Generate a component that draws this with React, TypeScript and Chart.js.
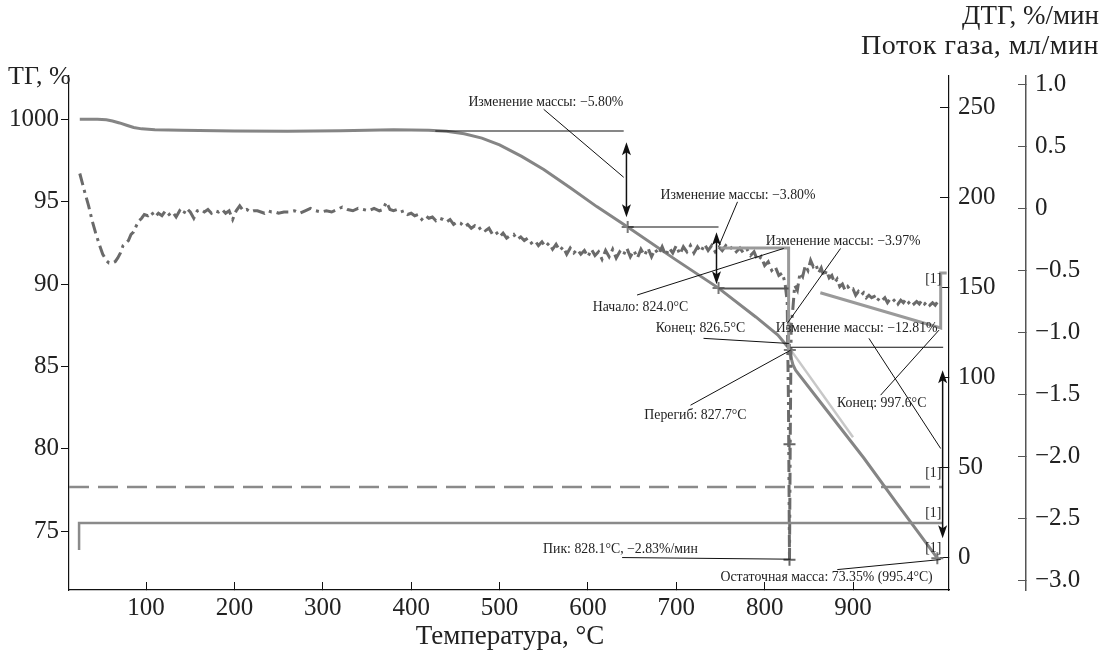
import { useEffect, useRef } from 'react';
import { Chart, registerables } from 'chart.js';

Chart.register(...registerables);

const FONT = '"Liberation Serif", "Times New Roman", serif';

// axis ticks
const X_TICKS = [100, 200, 300, 400, 500, 600, 700, 800, 900];
const TG_TICKS = [75, 80, 85, 90, 95, 100];
const TG_TICK_LABELS = ['75', '80', '85', '90', '95', '1000'];
const FLOW_TICKS = [0, 50, 100, 150, 200, 250];
const DTG_TICKS = [-3, -2.5, -2, -1.5, -1, -0.5, 0, 0.5, 1];
const DTG_TICK_LABELS = ['−3.0', '−2.5', '−2.0', '−1.5', '−1.0', '−0.5', '0', '0.5', '1.0'];

// TG curve, %
const TG_T = [25, 45, 55, 62, 70, 78, 86, 95, 110, 140, 200, 260, 320, 380, 420, 440, 460, 480, 500, 525, 550, 580, 610, 645, 700, 747.8, 790, 815, 826.5, 829, 832, 835, 870, 912, 950, 995.4];
const TG_V = [100.0, 100.0, 99.97, 99.9, 99.78, 99.64, 99.5, 99.42, 99.37, 99.33, 99.29, 99.28, 99.31, 99.36, 99.34, 99.28, 99.12, 98.86, 98.45, 97.75, 96.95, 95.85, 94.7, 93.46, 91.45, 89.75, 88.0, 86.9, 86.16, 85.7, 85.1, 84.77, 82.35, 79.45, 76.65, 73.35];

// light tangent after the step
const LIGHT_T = [829.5, 900];
const LIGHT_V = [86.0, 80.7];

// DTG curve, %/min
const DTG_T = [25, 28, 31, 35, 39, 43, 47, 51, 55, 58, 62, 65, 68, 71, 74, 77, 80, 83, 86, 89, 92, 95, 98, 102, 106, 110, 114, 118, 122, 126, 130, 134, 138, 142, 146, 150, 154, 158, 162, 166, 170, 174, 178, 182, 186, 190, 194, 198, 202, 206, 210, 214, 218, 222, 226, 230, 234, 238, 242, 246, 250, 256, 262, 268, 274, 280, 286, 292, 298, 304, 310, 316, 322, 328, 334, 340, 346, 352, 358, 364, 368, 372, 376, 380, 384, 388, 392, 396, 400, 404, 408, 412, 416, 420, 424, 428, 432, 436, 440, 444, 448, 452, 456, 460, 464, 468, 472, 476, 480, 484, 488, 492, 496, 500, 504, 508, 512, 516, 520, 524, 528, 532, 536, 540, 544, 548, 552, 556, 560, 564, 568, 572, 576, 580, 584, 588, 592, 596, 600, 604, 608, 612, 616, 620, 624, 628, 632, 636, 640, 644, 648, 652, 656, 660, 664, 668, 672, 676, 680, 684, 688, 692, 696, 700, 704, 708, 712, 716, 720, 724, 728, 732, 736, 740, 744, 748, 752, 756, 760, 764, 768, 772, 776, 780, 784, 788, 792, 796, 800, 804, 808, 812, 816, 820, 823, 825.5, 827, 828.1, 829, 830, 832, 834, 837, 840, 843, 846, 849, 852, 855, 858, 861, 864, 867, 870, 873, 876, 879, 882, 885, 888, 891, 894, 897, 900, 903, 906, 909, 912, 915, 918, 921, 924, 927, 930, 933, 936, 939, 942, 945, 948, 951, 954, 957, 960, 963, 966, 969, 972, 975, 978, 981, 984, 987, 990, 993, 996];
const DTG_V = [0.28, 0.20, 0.12, 0.02, -0.10, -0.20, -0.29, -0.37, -0.42, -0.44, -0.44, -0.43, -0.40, -0.36, -0.30, -0.28, -0.26, -0.21, -0.19, -0.14, -0.10, -0.08, -0.05, -0.06, -0.03, -0.07, -0.04, -0.06, -0.02, -0.05, -0.03, -0.07, -0.02, -0.05, 0.00, -0.03, -0.08, -0.02, -0.01, -0.03, -0.01, -0.04, -0.02, -0.03, -0.01, -0.04, -0.02, -0.09, -0.02, 0.02, -0.02, -0.01, -0.03, -0.02, -0.02, -0.03, -0.04, -0.02, -0.03, -0.03, -0.04, -0.03, -0.03, -0.02, -0.04, -0.02, 0.00, -0.02, -0.03, -0.02, -0.03, -0.01, 0.01, -0.01, -0.02, 0.00, -0.01, -0.02, 0.00, -0.02, -0.01, 0.05, -0.01, -0.02, -0.01, -0.03, -0.02, -0.05, -0.04, -0.06, -0.05, -0.09, -0.06, -0.08, -0.07, -0.10, -0.08, -0.09, -0.11, -0.09, -0.13, -0.11, -0.12, -0.15, -0.13, -0.16, -0.14, -0.17, -0.15, -0.18, -0.16, -0.21, -0.19, -0.23, -0.20, -0.24, -0.22, -0.21, -0.25, -0.23, -0.26, -0.24, -0.28, -0.26, -0.30, -0.27, -0.31, -0.28, -0.33, -0.29, -0.34, -0.31, -0.37, -0.32, -0.36, -0.33, -0.37, -0.34, -0.39, -0.33, -0.38, -0.35, -0.41, -0.34, -0.39, -0.33, -0.40, -0.35, -0.38, -0.32, -0.39, -0.34, -0.40, -0.33, -0.38, -0.32, -0.39, -0.33, -0.37, -0.31, -0.38, -0.32, -0.36, -0.30, -0.37, -0.31, -0.35, -0.30, -0.36, -0.31, -0.35, -0.29, -0.34, -0.30, -0.35, -0.31, -0.34, -0.30, -0.33, -0.31, -0.35, -0.32, -0.36, -0.33, -0.38, -0.35, -0.42, -0.39, -0.46, -0.43, -0.50, -0.47, -0.54, -0.52, -0.60, -0.75, -1.60, -2.83, -1.80, -0.95, -0.80, -0.62, -0.66, -0.52, -0.55, -0.46, -0.50, -0.42, -0.47, -0.45, -0.52, -0.48, -0.55, -0.50, -0.56, -0.54, -0.60, -0.57, -0.63, -0.61, -0.66, -0.63, -0.66, -0.65, -0.70, -0.67, -0.70, -0.68, -0.72, -0.70, -0.72, -0.71, -0.75, -0.72, -0.74, -0.72, -0.76, -0.73, -0.75, -0.73, -0.77, -0.74, -0.76, -0.73, -0.76, -0.74, -0.77, -0.75, -0.77, -0.74, -0.77, -0.75, -0.78, -0.76, -0.78, -0.75, -0.77, -0.76];

// DTG evaluation baselines
const BASE1_T = [750, 827.1, 827.1];
const BASE1_V = [-0.32, -0.32, -1.14];
const BASE2_T = [863, 999.2, 999.2, 1006];
const BASE2_V = [-0.68, -0.964, -0.521, -0.521];

// gas flow, ml/min
const FLOW1_T = [24.2, 24.2, 1001];
const FLOW1_V = [4.3, 19.3, 19.3];
const FLOW2_T = [12.8, 1001];
const FLOW2_V = [39.3, 39.3];

// evaluation crosses
const CROSS_TG_T = [645, 747.8, 828.5, 995.4];
const CROSS_TG_V = [93.46, 89.75, 86.0, 73.35];
const CROSS_DTG_T = [828.1, 828.1];
const CROSS_DTG_V = [-1.9, -2.83];

// annotations in TG units: [TG, T from, T to]
const HLINES = [
  [99.29, 427.3, 640.5],
  [93.46, 645, 747.8],
  [89.73, 747.8, 827.1],
  [86.16, 829.3, 1002],
];
// double arrows: [T, TG top, TG bottom]
const ARROWS = [
  [643.6, 98.61, 94.06],
  [745.5, 93.15, 89.99],
  [1001.4, 84.77, 74.56],
];
// leaders: [T1, TG1, T2, TG2]
const LEADERS = [
  [549.9, 100.61, 640.5, 96.48],
  [769.3, 94.99, 747.8, 92.26],
  [655.6, 89.33, 821.6, 92.16],
  [885.9, 92.16, 825.6, 87.61],
  [730.8, 86.7, 827.4, 86.39],
  [716.1, 82.64, 829.3, 85.98],
  [918.0, 86.7, 999.2, 80.01],
  [931.2, 83.25, 997.3, 87.2],
  [638.7, 73.39, 829.3, 73.29],
  [882.2, 72.66, 999.2, 73.27],
];
const LABEL_TEXT = [
  'Изменение массы: −5.80%',
  'Изменение массы: −3.80%',
  'Начало: 824.0°C',
  'Изменение массы: −3.97%',
  'Конец: 826.5°C',
  'Перегиб: 827.7°C',
  'Изменение массы: −12.81%',
  'Конец: 997.6°C',
  'Пик: 828.1°C, −2.83%/мин',
  'Остаточная масса: 73.35% (995.4°C)',
  '[1]', '[1]', '[1]', '[1]',
];
const LABEL_T = [552.4, 769.9, 659.5, 888.8, 727.4, 721.7, 904.1, 932.4, 636.8, 870.1, 990.7, 990.7, 990.7, 990.7];
const LABEL_V = [101.01, 95.4, 88.61, 92.56, 87.28, 82.04, 87.3, 82.75, 73.89, 72.19, 90.3, 78.51, 76.1, 73.94];

const zip = (xs: number[], ys: number[]) => xs.map((x, i) => ({ x, y: ys[i] }));

const notesPlugin = {
  id: 'tgaNotes',
  afterDatasetsDraw(chart: any) {
    const { ctx, scales } = chart;
    const px = (t: number) => scales.x.getPixelForValue(t);
    const py = (v: number) => scales.yTG.getPixelForValue(v);
    ctx.save();
    HLINES.forEach(([v, t1, t2], i) => {
      ctx.strokeStyle = i === 2 ? '#555' : '#111';
      ctx.lineWidth = i === 2 ? 2 : 1.2;
      ctx.beginPath();
      ctx.moveTo(px(t1), py(v));
      ctx.lineTo(px(t2), py(v));
      ctx.stroke();
    });
    ctx.strokeStyle = '#111';
    ctx.lineWidth = 1;
    LEADERS.forEach(([t1, v1, t2, v2]) => {
      ctx.beginPath();
      ctx.moveTo(px(t1), py(v1));
      ctx.lineTo(px(t2), py(v2));
      ctx.stroke();
    });
    ctx.fillStyle = '#111';
    ctx.lineWidth = 1.5;
    ARROWS.forEach(([t, v1, v2]) => {
      const x = px(t), y1 = py(v1), y2 = py(v2);
      ctx.beginPath();
      ctx.moveTo(x, y1 + 6);
      ctx.lineTo(x, y2 - 6);
      ctx.stroke();
      ctx.beginPath();
      ctx.moveTo(x, y1); ctx.lineTo(x - 4.5, y1 + 13); ctx.lineTo(x, y1 + 10); ctx.lineTo(x + 4.5, y1 + 13);
      ctx.closePath(); ctx.fill();
      ctx.beginPath();
      ctx.moveTo(x, y2); ctx.lineTo(x - 4.5, y2 - 13); ctx.lineTo(x, y2 - 10); ctx.lineTo(x + 4.5, y2 - 13);
      ctx.closePath(); ctx.fill();
    });
    ctx.font = `13.8px ${FONT}`;
    ctx.textAlign = 'center';
    ctx.textBaseline = 'middle';
    ctx.fillStyle = '#222';
    LABEL_TEXT.forEach((s, i) => ctx.fillText(s, px(LABEL_T[i]), py(LABEL_V[i])));
    ctx.restore();
  },
  afterDraw(chart: any) {
    const { ctx } = chart;
    ctx.save();
    ctx.fillStyle = '#222';
    ctx.textBaseline = 'middle';
    ctx.font = `26px ${FONT}`;
    ctx.textAlign = 'left';
    ctx.fillText('ТГ, %', 8, 77);
    ctx.font = `27px ${FONT}`;
    ctx.textAlign = 'right';
    ctx.fillText('ДТГ, %/мин', 1099, 17);
    ctx.font = `28px ${FONT}`;
    ctx.letterSpacing = '0.5px';
    ctx.fillText('Поток газа, мл/мин', 1099, 47);
    ctx.letterSpacing = '0px';
    ctx.font = `27px ${FONT}`;
    ctx.textAlign = 'center';
    ctx.fillText('Температура, °C', 510, 637);
    ctx.restore();
  },
};

export default function App() {
  const canvasRef = useRef<HTMLCanvasElement>(null);

  useEffect(() => {
    if (!canvasRef.current) return;
    const tickFont = { family: FONT, size: 25 };
    const line = (data: any[], yAxisID: string, color: string, width: number, dash: number[] = []) => ({
      type: 'line' as const,
      data,
      yAxisID,
      borderColor: color,
      borderWidth: width,
      borderDash: dash,
      pointRadius: 0,
      showLine: true,
      fill: false,
      tension: 0,
    });
    const chart = new Chart(canvasRef.current, {
      type: 'scatter',
      data: {
        datasets: [
          line(zip(FLOW2_T, FLOW2_V), 'yFlow', '#8a8a8a', 2.5, [20, 9]),
          line(zip(FLOW1_T, FLOW1_V), 'yFlow', '#8a8a8a', 2.5),
          line(zip(BASE1_T, BASE1_V), 'yDTG', '#9a9a9a', 3),
          line(zip(BASE2_T, BASE2_V), 'yDTG', '#9a9a9a', 3),
          line(zip(DTG_T, DTG_V), 'yDTG', '#6a6a6a', 3, [12, 5, 3, 5]),
          line(zip(LIGHT_T, LIGHT_V), 'yTG', '#c8c8c8', 2.5),
          line(zip(TG_T, TG_V), 'yTG', '#858585', 3),
          {
            data: zip(CROSS_TG_T, CROSS_TG_V),
            yAxisID: 'yTG',
            pointStyle: 'cross',
            pointRadius: 6,
            pointBorderWidth: 2,
            pointBorderColor: '#777',
            showLine: false,
          },
          {
            data: zip(CROSS_DTG_T, CROSS_DTG_V),
            yAxisID: 'yDTG',
            pointStyle: 'cross',
            pointRadius: 6,
            pointBorderWidth: 2,
            pointBorderColor: '#666',
            showLine: false,
          },
        ],
      },
      options: {
        responsive: true,
        maintainAspectRatio: false,
        animation: false,
        layout: { padding: { top: 76, left: 0, right: 0, bottom: 0 } },
        plugins: { legend: { display: false }, tooltip: { enabled: false } },
        scales: {
          x: {
            type: 'linear',
            position: 'bottom',
            min: 12.8,
            max: 1008.6,
            afterBuildTicks: (s: any) => { s.ticks = X_TICKS.map((value) => ({ value })); },
            afterFit: (s: any) => { s.height = 65; },
            ticks: { font: tickFont, color: '#222', padding: 11, maxRotation: 0, autoSkip: false },
            grid: { drawOnChartArea: false, tickLength: -8, tickColor: '#111', tickWidth: 1 },
            border: { color: '#111', width: 1.2 },
          },
          yTG: {
            type: 'linear',
            position: 'left',
            min: 71.42,
            max: 102.63,
            afterBuildTicks: (s: any) => { s.ticks = TG_TICKS.map((value) => ({ value })); },
            afterFit: (s: any) => { s.width = 69; },
            ticks: {
              font: tickFont, color: '#222', padding: 2, autoSkip: false,
              callback: (v: any) => TG_TICK_LABELS[TG_TICKS.indexOf(Number(v))],
            },
            grid: { drawOnChartArea: false, tickLength: 8, tickColor: '#111' },
            border: { color: '#111', width: 1.2 },
          },
          yFlow: {
            type: 'linear',
            position: 'right',
            weight: 0,
            min: -17.9,
            max: 267.6,
            afterBuildTicks: (s: any) => { s.ticks = FLOW_TICKS.map((value) => ({ value })); },
            afterFit: (s: any) => { s.width = 77; },
            ticks: { font: tickFont, color: '#222', padding: 18, autoSkip: false },
            grid: { drawOnChartArea: false, tickLength: -9, tickColor: '#111' },
            border: { color: '#111', width: 1.2 },
          },
          yDTG: {
            type: 'linear',
            position: 'right',
            weight: 1,
            min: -3.073,
            max: 1.065,
            afterBuildTicks: (s: any) => { s.ticks = DTG_TICKS.map((value) => ({ value })); },
            afterFit: (s: any) => { s.width = 75; },
            ticks: {
              font: tickFont, color: '#222', padding: 17, autoSkip: false,
              callback: (v: any) => DTG_TICK_LABELS[DTG_TICKS.indexOf(Number(v))],
            },
            grid: { drawOnChartArea: false, tickLength: -8, tickColor: '#555' },
            border: { color: '#555', width: 1.5 },
          },
        },
      },
      plugins: [notesPlugin],
    } as any);
    return () => chart.destroy();
  }, []);

  return (
    <div style={{ position: 'fixed', left: 0, top: 0, width: 1101, height: 655, background: '#fff' }}>
      <canvas ref={canvasRef} />
    </div>
  );
}
